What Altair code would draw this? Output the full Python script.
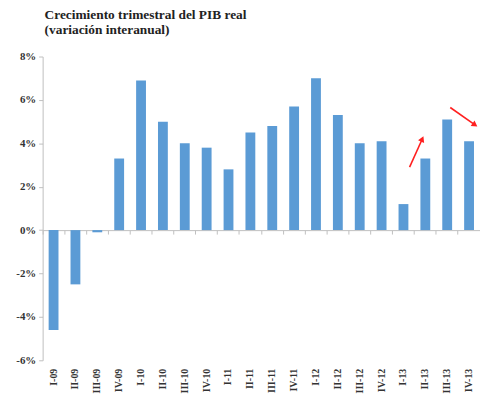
import altair as alt
import pandas as pd

quarters = ["I-09", "II-09", "III-09", "IV-09", "I-10", "II-10", "III-10", "IV-10",
            "I-11", "II-11", "III-11", "IV-11", "I-12", "II-12", "III-12", "IV-12",
            "I-13", "II-13", "III-13", "IV-13"]
growth = [-4.6, -2.5, -0.1, 3.3, 6.9, 5.0, 4.0, 3.8, 2.8, 4.5,
          4.8, 5.7, 7.0, 5.3, 4.0, 4.1, 1.2, 3.3, 5.1, 4.1]

# red annotation arrows (x in quarter-index units, y in %)
arrow_x_start = [16.78, 18.64]
arrow_y_start = [2.9, 5.65]
arrow_x_end = [17.36, 19.77]
arrow_y_end = [4.2, 4.85]
arrow_angle = [24, 125]

y_ticks = [-6, -4, -2, 0, 2, 4, 6, 8]

df = pd.DataFrame({"q": quarters, "v": growth})
arrows = pd.DataFrame({"xs": arrow_x_start, "ys": arrow_y_start,
                       "xe": arrow_x_end, "ye": arrow_y_end, "ang": arrow_angle})

W, H = 442, 307
Y_MIN, Y_MAX = -6, 8
GRAY = "#BFBFBF"
FONT = "Liberation Serif"
ZERO_OFF = H * (0 - Y_MIN) / (Y_MAX - Y_MIN)  # distance of zero line above bottom
TICK = 4

xscale = alt.Scale(domain=quarters, paddingInner=0, paddingOuter=0)
yscale = alt.Scale(domain=[Y_MIN, Y_MAX], nice=False, zero=False)
qscale = alt.Scale(domain=[0, len(quarters)], nice=False, zero=False)

bars = alt.Chart(df).mark_bar(color="#5B9BD5", width=alt.RelativeBandSize(0.45)).encode(
    x=alt.X("q:N", sort=quarters, scale=xscale,
            axis=alt.Axis(title=None, labelAngle=-90, domain=True, ticks=True,
                          bandPosition=0, tickSize=TICK, domainColor=GRAY, tickColor=GRAY,
                          offset=-ZERO_OFF,
                          labelPadding=ZERO_OFF + 8 - TICK, labelFont=FONT, labelFontSize=10,
                          labelFontWeight="bold", labelColor="#333333")),
    y=alt.Y("v:Q", scale=yscale,
            axis=alt.Axis(title=None, values=y_ticks, labelExpr="datum.value + '%'",
                          grid=False, domainColor=GRAY, tickColor=GRAY, tickSize=4,
                          labelPadding=3, labelFont=FONT, labelFontSize=11,
                          labelFontWeight="bold", labelColor="#333333")),
)

arrow_lines = alt.Chart(arrows).mark_rule(color="#FF2020", strokeWidth=1.6).encode(
    x=alt.X("xs:Q", scale=qscale, axis=None),
    x2="xe:Q",
    y=alt.Y("ys:Q", scale=yscale, axis=None),
    y2="ye:Q",
)

arrow_heads = alt.Chart(arrows).mark_point(
    shape="triangle-up", filled=True, size=45, color="#FF2020", opacity=1
).encode(
    x=alt.X("xe:Q", scale=qscale, axis=None),
    y=alt.Y("ye:Q", scale=yscale, axis=None),
    angle=alt.Angle("ang:Q", scale=None),
)

chart = alt.layer(bars, arrow_lines, arrow_heads).resolve_scale(
    x="independent"
).resolve_axis(
    x="independent", y="independent"
).properties(
    width=W, height=H,
    title=alt.TitleParams(["Crecimiento trimestral del PIB real", "(variación interanual)"],
                          anchor="start", frame="group", font=FONT, fontSize=13.5,
                          fontWeight="bold", color="#222222", offset=14, dx=2,
                          lineHeight=15),
    autosize=alt.AutoSizeParams(type="none"),
    padding={"left": 35, "top": 47, "right": 0, "bottom": 32},
).configure_view(stroke=None)

chart.save("out.html", embed_options={"renderer": "svg", "actions": False})
